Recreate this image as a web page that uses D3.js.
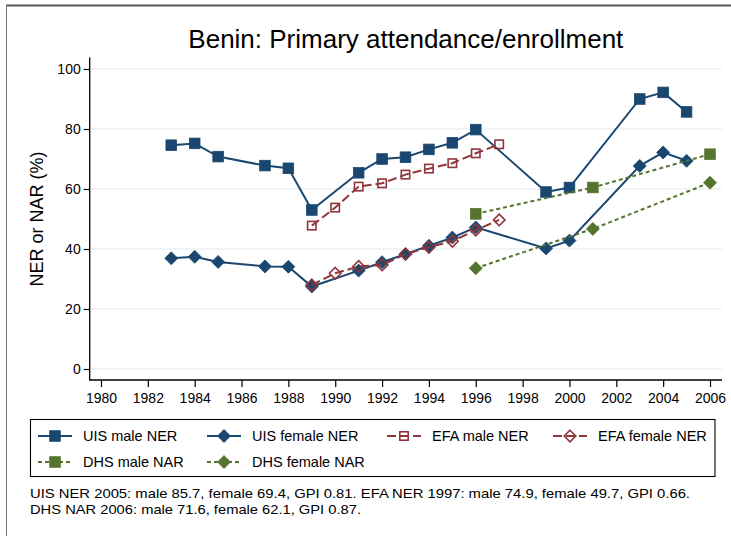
<!DOCTYPE html>
<html><head><meta charset="utf-8">
<script src="https://cdn.jsdelivr.net/npm/d3@7"></script>
<style>
html,body{margin:0;padding:0;background:#fff;}
svg{display:block;font-family:"Liberation Sans",Arial,sans-serif;}
</style></head>
<body>
<svg id="c" width="731" height="536"></svg>
<script>
const title = "Benin: Primary attendance/enrollment";
const yLabel = "NER or NAR (%)";
const xTicks = [1980,1982,1984,1986,1988,1990,1992,1994,1996,1998,2000,2002,2004,2006];
const yTicks = [0,20,40,60,80,100];

const uisYears = [1983,1984,1985,1987,1988,1989,1991,1992,1993,1994,1995,1996,1999,2000,2003,2004,2005];
const uisMale = [74.6,75.2,70.8,67.8,66.9,53.0,65.4,70.0,70.6,73.2,75.4,79.8,59.0,60.5,90.0,92.2,85.7];
const uisFemale = [36.9,37.4,35.7,34.2,34.1,27.5,32.8,35.6,38.3,41.1,43.8,47.2,40.2,42.8,67.7,72.2,69.4];
const efaYears = [1989,1990,1991,1992,1993,1994,1995,1996,1997];
const efaMale = [47.8,53.8,60.8,61.9,64.8,66.8,68.6,71.9,74.9];
const efaFemale = [28.0,31.9,34.2,34.7,38.3,40.6,42.6,46.3,49.7];
const dhsYears = [1996,2001,2006];
const dhsMale = [51.7,60.5,71.6];
const dhsFemale = [33.6,46.7,62.1];

const legendLabels = ["UIS male NER","UIS female NER","EFA male NER","EFA female NER","DHS male NAR","DHS female NAR"];
const noteLines = [
  "UIS NER 2005: male 85.7, female 69.4, GPI 0.81. EFA NER 1997: male 74.9, female 49.7, GPI 0.66.",
  "DHS NAR 2006: male 71.6, female 62.1, GPI 0.87."
];

const NAVY="#1a476f", MAROON="#90353b", GREEN="#55752f", GRID="#eaf2f3";

const series = [
  {years:uisYears, vals:uisMale, color:NAVY, shape:"square", fill:true, dash:null},
  {years:uisYears, vals:uisFemale, color:NAVY, shape:"diamond", fill:true, dash:null},
  {years:efaYears, vals:efaMale, color:MAROON, shape:"square", fill:false, dash:"9,4"},
  {years:efaYears, vals:efaFemale, color:MAROON, shape:"diamond", fill:false, dash:"9,4"},
  {years:dhsYears, vals:dhsMale, color:GREEN, shape:"square", fill:true, dash:"4,3"},
  {years:dhsYears, vals:dhsFemale, color:GREEN, shape:"diamond", fill:true, dash:"4,3"}
];

const svg = d3.select("#c");
// outer frame
svg.append("line").attr("x1",6).attr("x2",731).attr("y1",5.5).attr("y2",5.5).attr("stroke","#555").attr("stroke-width",2);
svg.append("line").attr("x1",6.5).attr("x2",6.5).attr("y1",5).attr("y2",536).attr("stroke","#777").attr("stroke-width",1);

const x = d3.scaleLinear().domain([1980,2006]).range([101,710]);
const y = d3.scaleLinear().domain([0,100]).range([369,69]);
const plotL = 89.7, plotR = 722, plotT = 57.5, plotB = 380;

// title
svg.append("text").attr("x",(plotL+plotR)/2).attr("y",48).attr("text-anchor","middle")
  .attr("font-size",26).attr("fill","#000").text(title);

// gridlines
svg.append("g").selectAll("line").data(yTicks).join("line")
  .attr("x1",plotL).attr("x2",plotR).attr("y1",d=>y(d)).attr("y2",d=>y(d))
  .attr("stroke",GRID).attr("stroke-width",1.5);

// axes
const yAxis = d3.axisLeft(y).tickValues(yTicks).tickSize(6).tickPadding(3);
const gy = svg.append("g").attr("transform",`translate(${plotL},0)`).call(yAxis);
gy.select(".domain").remove();
gy.append("line").attr("x1",0).attr("x2",0).attr("y1",plotT).attr("y2",plotB).attr("stroke","#000").attr("stroke-width",1.3);
gy.selectAll(".tick line").attr("stroke","#000").attr("stroke-width",1.2);
gy.selectAll(".tick text").attr("font-size",14).attr("fill","#000").attr("font-family","Liberation Sans, Arial, sans-serif");

const xAxis = d3.axisBottom(x).tickValues(xTicks).tickFormat(d3.format("d")).tickSize(7).tickPadding(6);
const gx = svg.append("g").attr("transform",`translate(0,${plotB})`).call(xAxis);
gx.select(".domain").remove();
gx.append("line").attr("x1",plotL-0.6).attr("x2",plotR).attr("y1",0).attr("y2",0).attr("stroke","#000").attr("stroke-width",1.3);
gx.selectAll(".tick line").attr("stroke","#000").attr("stroke-width",1.2);
gx.selectAll(".tick text").attr("font-size",14).attr("fill","#000").attr("font-family","Liberation Sans, Arial, sans-serif");

// y label
svg.append("text").attr("transform","translate(43,219) rotate(-90)").attr("text-anchor","middle")
  .attr("font-size",18).attr("fill","#000").text(yLabel);

function marker(g, s, cx, cy){
  if (s.shape==="square"){
    const h = s.fill ? 5.3 : 4.2;
    g.append("rect").attr("x",cx-h).attr("y",cy-h).attr("width",2*h).attr("height",2*h)
      .attr("fill", s.fill ? s.color : "none").attr("stroke",s.color).attr("stroke-width", s.fill?0.8:1.6);
  } else {
    const h = s.fill ? 6.5 : 5.8;
    g.append("path").attr("d",`M${cx},${cy-h}L${cx+h},${cy}L${cx},${cy+h}L${cx-h},${cy}Z`)
      .attr("fill", s.fill ? s.color : "none").attr("stroke",s.color).attr("stroke-width", s.fill?0.8:1.6);
  }
}

const line = d3.line().x(d=>x(d[0])).y(d=>y(d[1]));
const gData = svg.append("g");
series.forEach(s=>{
  const pts = s.years.map((yr,i)=>[yr,s.vals[i]]);
  const g = gData.append("g");
  g.append("path").attr("d",line(pts)).attr("fill","none").attr("stroke",s.color)
    .attr("stroke-width",2).attr("stroke-dasharray",s.dash);
  pts.forEach(p=>marker(g,s,x(p[0]),y(p[1])));
});

// legend
svg.append("rect").attr("x",30.5).attr("y",419.5).attr("width",684.5).attr("height",57)
  .attr("fill","none").attr("stroke","#000").attr("stroke-width",1.1);
const colX = [38,207,387,553];
const rowY = [436,462];
series.forEach((s,i)=>{
  const cx0 = colX[i%4], cy = rowY[Math.floor(i/4)];
  const g = svg.append("g");
  g.append("line").attr("x1",cx0).attr("x2",cx0+34).attr("y1",cy).attr("y2",cy)
    .attr("stroke",s.color).attr("stroke-width",2).attr("stroke-dasharray",s.dash);
  marker(g,s,cx0+17,cy);
  g.append("text").attr("x",cx0+45).attr("y",cy+5).attr("font-size",14.5).attr("fill","#000").text(legendLabels[i]);
});

// note
const noteLen = [660, 331];
svg.append("g").selectAll("text").data(noteLines).join("text")
  .attr("x",30).attr("y",(d,i)=>498+i*15.5).attr("font-size",13.5).attr("fill","#000")
  .attr("textLength",(d,i)=>noteLen[i]).attr("lengthAdjust","spacingAndGlyphs").text(d=>d);
</script>
</body></html>
